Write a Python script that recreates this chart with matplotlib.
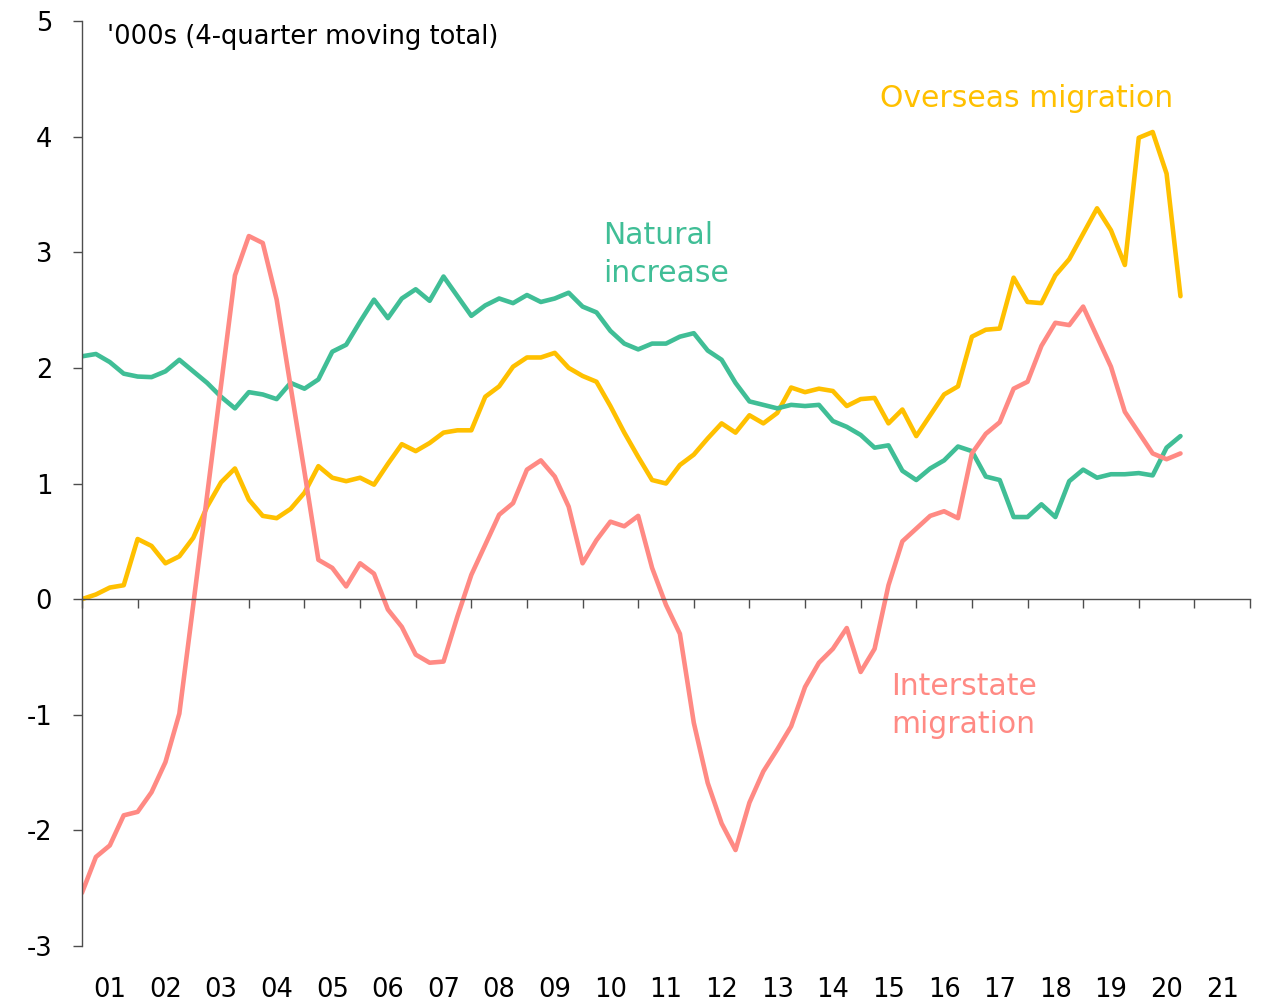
import matplotlib
matplotlib.use("Agg")
import matplotlib.pyplot as plt
import numpy as np

# quarterly data, first point Q1 2001, 80 quarters
start_year = 2001
natural = [2.10, 2.12, 2.05, 1.95, 1.925, 1.92, 1.97, 2.07, 1.97, 1.87,
           1.75, 1.65, 1.79, 1.77, 1.73, 1.87, 1.82, 1.90, 2.14, 2.20,
           2.40, 2.59, 2.43, 2.60, 2.68, 2.58, 2.79, 2.62, 2.45, 2.54,
           2.60, 2.56, 2.63, 2.57, 2.60, 2.65, 2.53, 2.48, 2.32, 2.21,
           2.16, 2.21, 2.21, 2.27, 2.30, 2.15, 2.07, 1.87, 1.71, 1.68,
           1.65, 1.68, 1.67, 1.68, 1.54, 1.49, 1.42, 1.31, 1.33, 1.11,
           1.03, 1.13, 1.20, 1.32, 1.28, 1.06, 1.03, 0.71, 0.71, 0.82,
           0.71, 1.02, 1.12, 1.05, 1.08, 1.08, 1.09, 1.07, 1.31, 1.41]
overseas = [0.00, 0.04, 0.10, 0.12, 0.52, 0.46, 0.31, 0.37, 0.53, 0.80,
            1.01, 1.13, 0.86, 0.72, 0.70, 0.78, 0.92, 1.15, 1.05, 1.02,
            1.05, 0.99, 1.17, 1.34, 1.28, 1.35, 1.44, 1.46, 1.46, 1.75,
            1.84, 2.01, 2.09, 2.09, 2.13, 2.00, 1.93, 1.88, 1.67, 1.44,
            1.23, 1.03, 1.00, 1.16, 1.25, 1.39, 1.52, 1.44, 1.59, 1.52,
            1.61, 1.83, 1.79, 1.82, 1.80, 1.67, 1.73, 1.74, 1.52, 1.64,
            1.41, 1.59, 1.77, 1.84, 2.27, 2.33, 2.34, 2.78, 2.57, 2.56,
            2.80, 2.94, 3.16, 3.38, 3.19, 2.89, 3.99, 4.04, 3.68, 2.62]
interstate = [-2.54, -2.23, -2.13, -1.87, -1.84, -1.67, -1.41, -0.99, -0.05, 0.90,
              1.85, 2.80, 3.14, 3.08, 2.59, 1.84, 1.10, 0.34, 0.27, 0.11,
              0.31, 0.22, -0.09, -0.24, -0.48, -0.55, -0.54, -0.15, 0.21, 0.47,
              0.73, 0.83, 1.12, 1.20, 1.06, 0.80, 0.31, 0.51, 0.67, 0.63,
              0.72, 0.27, -0.05, -0.30, -1.07, -1.59, -1.94, -2.17, -1.76, -1.49,
              -1.30, -1.10, -0.76, -0.55, -0.43, -0.25, -0.63, -0.43, 0.12, 0.50,
              0.61, 0.72, 0.76, 0.70, 1.26, 1.43, 1.53, 1.82, 1.88, 2.19,
              2.39, 2.37, 2.53, 2.27, 2.01, 1.62, 1.44, 1.26, 1.21, 1.26]
year_labels = ["01", "02", "03", "04", "05", "06", "07", "08", "09", "10", "11",
               "12", "13", "14", "15", "16", "17", "18", "19", "20", "21"]
ytick_labels = ["-3", "-2", "-1", "0", "1", "2", "3", "4", "5"]

yellow = "#FFC000"
green = "#40BE96"
red = "#FF8A84"
axis_col = "#4D4D4D"

plt.rcParams['font.family'] = ['DejaVu Sans']

x = start_year + np.arange(len(natural)) / 4

fig = plt.figure(figsize=(12.67, 10.08), dpi=100)
ax = fig.add_axes([82/1267, 1 - 946/1008, (1250 - 82)/1267, (946 - 21)/1008])

ax.plot(x, overseas, color=yellow, lw=3.3, solid_joinstyle='round', solid_capstyle='round')
ax.plot(x, natural, color=green, lw=3.3, solid_joinstyle='round', solid_capstyle='round')
ax.plot(x, interstate, color=red, lw=3.3, solid_joinstyle='round', solid_capstyle='round')

ax.set_xlim(start_year, start_year + len(year_labels))
ax.set_ylim(-3, 5)

for s in ['top', 'right']:
    ax.spines[s].set_visible(False)
ax.spines['bottom'].set_position(('data', 0))
ax.spines['bottom'].set_color(axis_col)
ax.spines['left'].set_color(axis_col)
ax.spines['bottom'].set_linewidth(1.0)
ax.spines['left'].set_linewidth(1.0)

ax.set_xticks(np.arange(start_year, start_year + len(year_labels) + 1))
ax.set_xticklabels([])
ax.tick_params(axis='x', direction='out', length=6.5, width=1.0, color=axis_col)

ax.set_yticks(np.arange(-3, 6))
ax.set_yticklabels(ytick_labels)
ax.tick_params(axis='y', direction='out', length=6.5, width=1.0, color=axis_col,
               pad=15, labelsize=18.5, labelcolor='black')

for i, lab in enumerate(year_labels):
    ax.text(start_year + i + 0.5, -3.38, lab, ha='center', va='center',
            fontsize=18.5, color='black', clip_on=False)

ax.text(2001.45, 4.86, "'000s (4-quarter moving total)", fontsize=18.5,
        ha='left', va='center', color='black')
ax.text(2015.35, 4.33, "Overseas migration", fontsize=21.5, ha='left', va='center', color=yellow)
ax.text(2010.37, 2.98, "Natural\nincrease", fontsize=21.5, ha='left', va='center',
        color=green, linespacing=1.37)
ax.text(2015.55, -0.92, "Interstate\nmigration", fontsize=21.5, ha='left', va='center',
        color=red, linespacing=1.37)

fig.savefig("out.png", dpi=100)
